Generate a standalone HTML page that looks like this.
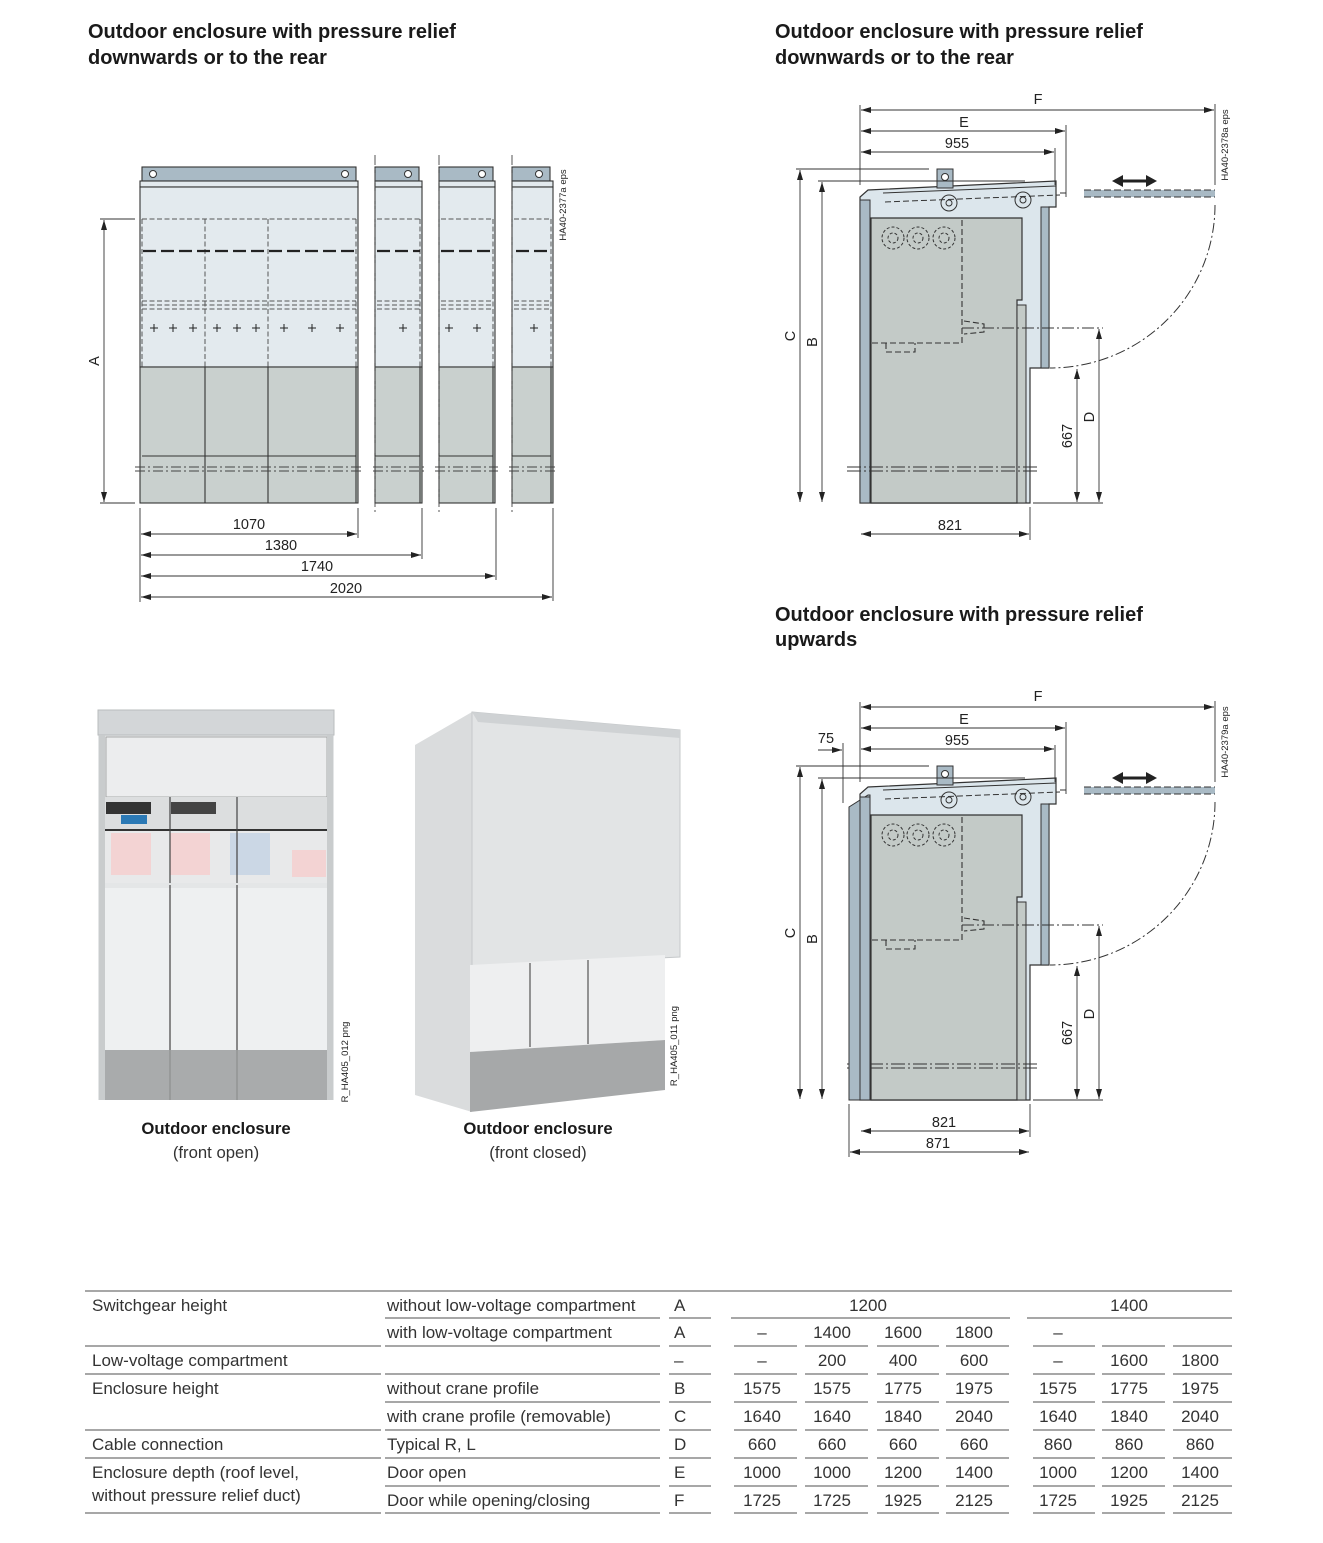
<!DOCTYPE html>
<html><head><meta charset="utf-8"><style>
html,body{margin:0;padding:0;background:#fff}
svg{display:block}
text{font-family:"Liberation Sans",sans-serif;fill:#222}
.t{font-size:20px;font-weight:bold;fill:#1a1a1a}
.d{font-size:14.5px}
.s{font-size:9.5px}
.tb{font-size:17px;fill:#333}
</style></head><body>
<svg width="1323" height="1543" viewBox="0 0 1323 1543" xmlns="http://www.w3.org/2000/svg">
<defs>
<marker id="ar" viewBox="0 0 10 6" refX="10" refY="3" markerWidth="10" markerHeight="6" markerUnits="userSpaceOnUse" orient="auto-start-reverse"><path d="M0,0L10,3L0,6z" fill="#222"/></marker>
<g id="side">
  <path d="M860,503 L860,197 L868,190 L1056,181 L1056,207 L1049,207 L1049,368 L1030,368 L1030,503 Z" fill="#dce6ec" stroke="#333" stroke-width="1.2"/>
  <rect x="860" y="200" width="10" height="303" fill="#a9bac5" stroke="#333" stroke-width="1"/>
  <path d="M871,503 L871,218 L1022,218 L1022,300 L1017,300 L1017,503 Z" fill="#c3cac7" stroke="#333" stroke-width="1.2"/>
  <rect x="1017" y="305" width="9" height="198" fill="#c3cac7" stroke="#333" stroke-width="1"/>
  <rect x="1041" y="207" width="8" height="161" fill="#a9bac5" stroke="#333" stroke-width="1"/>
  <path d="M883,193 L1056,186" stroke="#333" stroke-width="1" fill="none"/>
  <path d="M885,202 L1060,195" stroke="#333" stroke-width="1" stroke-dasharray="6,3" fill="none"/>
  <rect x="937" y="169" width="16" height="19" fill="#a9bac5" stroke="#333"/>
  <circle cx="945" cy="177" r="3.5" fill="#fff" stroke="#333"/>
  <circle cx="949" cy="203" r="8" fill="none" stroke="#333"/><circle cx="949" cy="203" r="3" fill="none" stroke="#333"/>
  <circle cx="1023" cy="200" r="8" fill="none" stroke="#333"/><circle cx="1023" cy="200" r="3" fill="none" stroke="#333"/>
  <g fill="none" stroke="#333" stroke-dasharray="3,2">
    <circle cx="893" cy="238" r="11"/><circle cx="893" cy="238" r="5"/>
    <circle cx="918" cy="238" r="11"/><circle cx="918" cy="238" r="5"/>
    <circle cx="944" cy="238" r="11"/><circle cx="944" cy="238" r="5"/>
  </g>
  <g fill="none" stroke="#333" stroke-width="1.1" stroke-dasharray="6,3">
    <path d="M962,220 L962,343 L871,343"/>
    <path d="M886,343 L886,352 L915,352 L915,343"/>
    <path d="M964,321 L984,324 L984,332 L964,334"/>
  </g>
  <path d="M962,328 L1103,328" stroke="#333" stroke-dasharray="12,3,2,3" fill="none"/>
  <path d="M847,467 L1040,467 M847,471 L1040,471" stroke="#333" stroke-width="0.9" stroke-dasharray="14,3,2,3" fill="none"/>
  <path d="M1084,190 L1215,190 L1215,197 L1084,197 Z" fill="#a9bac5"/>
  <path d="M1084,190 L1215,190 M1084,197 L1215,197" stroke="#333" stroke-dasharray="7,3"/>
  <path d="M1060,193 L1066,193" stroke="#333"/>
  <path d="M1215,205 A165,163 0 0 1 1050,368" fill="none" stroke="#333" stroke-dasharray="10,3,2,3"/>
  <path d="M1112,181 L1123,175 L1123,179.5 L1146,179.5 L1146,175 L1157,181 L1146,187 L1146,182.5 L1123,182.5 L1123,187 Z" fill="#222"/>
  <g stroke="#333" stroke-width="0.9" fill="none">
    <path d="M860,105 L860,185 M1066,125 L1066,197 M1055,148 L1055,185 M1215,104 L1215,185"/>
    <path d="M861,110 L1214,110" marker-start="url(#ar)" marker-end="url(#ar)"/>
    <path d="M861,131 L1065,131" marker-start="url(#ar)" marker-end="url(#ar)"/>
    <path d="M861,152 L1054,152" marker-start="url(#ar)" marker-end="url(#ar)"/>
    <path d="M796,169 L929,169 M818,181 L1025,181"/>
    <path d="M800,170 L800,502" marker-start="url(#ar)" marker-end="url(#ar)"/>
    <path d="M822,182 L822,502" marker-start="url(#ar)" marker-end="url(#ar)"/>
    <path d="M1033,503 L1103,503"/>
    <path d="M1077,369 L1077,502" marker-start="url(#ar)" marker-end="url(#ar)"/>
    <path d="M1099,329 L1099,502" marker-start="url(#ar)" marker-end="url(#ar)"/>
    <path d="M1030,507 L1030,540"/>
    <path d="M861,534 L1029,534" marker-start="url(#ar)" marker-end="url(#ar)"/>
  </g>
</g>
</defs>

<text class="t" x="88" y="38">Outdoor enclosure with pressure relief</text>
<text class="t" x="88" y="64">downwards or to the rear</text>
<text class="t" x="775" y="38">Outdoor enclosure with pressure relief</text>
<text class="t" x="775" y="64">downwards or to the rear</text>
<text class="t" x="775" y="621">Outdoor enclosure with pressure relief</text>
<text class="t" x="775" y="646">upwards</text>

<!-- FRONT VIEW -->
<g stroke="#333" stroke-width="1.1">
  <rect x="142" y="167" width="214" height="14" fill="#a9bac5"/>
  <rect x="140" y="181" width="218" height="6" fill="#e3eaee"/>
  <rect x="140" y="187" width="218" height="180" fill="#e3eaee"/>
  <rect x="140" y="367" width="218" height="136" fill="#c9d0ce"/>
  <rect x="375" y="167" width="44" height="14" fill="#a9bac5"/>
  <rect x="375" y="181" width="47" height="6" fill="#e3eaee"/>
  <rect x="375" y="187" width="47" height="180" fill="#e3eaee"/>
  <rect x="375" y="367" width="47" height="136" fill="#c9d0ce"/>
  <rect x="439" y="167" width="54" height="14" fill="#a9bac5"/>
  <rect x="439" y="181" width="56" height="6" fill="#e3eaee"/>
  <rect x="439" y="187" width="56" height="180" fill="#e3eaee"/>
  <rect x="439" y="367" width="56" height="136" fill="#c9d0ce"/>
  <rect x="512" y="167" width="38" height="14" fill="#a9bac5"/>
  <rect x="512" y="181" width="41" height="6" fill="#e3eaee"/>
  <rect x="512" y="187" width="41" height="180" fill="#e3eaee"/>
  <rect x="512" y="367" width="41" height="136" fill="#c9d0ce"/>
  <path d="M205,367 L205,503 M268,367 L268,503 M356,367 L356,503 M420,367 L420,503 M493,367 L493,503 M551,367 L551,503" fill="none"/>
  <path d="M142,456 L356,456 M375,456 L420,456 M439,456 L493,456 M512,456 L551,456" fill="none"/>
</g>
<g fill="#fff" stroke="#333">
  <circle cx="153" cy="174" r="3.5"/><circle cx="345" cy="174" r="3.5"/>
  <circle cx="408" cy="174" r="3.5"/><circle cx="482" cy="174" r="3.5"/><circle cx="539" cy="174" r="3.5"/>
</g>
<g fill="none" stroke="#555" stroke-width="1" stroke-dasharray="5,2.5">
  <path d="M142,219 L356,219 M142,219 L142,367 M205,219 L205,367 M268,219 L268,367 M356,219 L356,367"/>
  <path d="M142,301 L356,301 M142,305 L356,305 M142,309 L356,309"/>
  <path d="M377,219 L420,219 M420,219 L420,367 M377,301 L420,301 M377,305 L420,305 M377,309 L420,309"/>
  <path d="M441,219 L493,219 M493,219 L493,367 M441,301 L493,301 M441,305 L493,305 M441,309 L493,309"/>
  <path d="M514,219 L551,219 M551,219 L551,367 M514,301 L551,301 M514,305 L551,305 M514,309 L551,309"/>
</g>
<g stroke="#222" stroke-width="2.2" stroke-dasharray="13,5">
  <path d="M143,251 L356,251 M377,251 L420,251 M441,251 L493,251 M516,251 L551,251"/>
</g>
<g stroke="#444" stroke-width="0.9" stroke-dasharray="10,3,2,3" fill="none">
  <path d="M375,155 L375,515 M439,155 L439,515 M512,155 L512,515"/>
  <path d="M135,467 L362,467 M135,471 L362,471 M373,467 L425,467 M373,471 L425,471 M435,467 L498,467 M435,471 L498,471 M509,467 L556,467 M509,471 L556,471"/>
</g>
<g stroke="#222" stroke-width="1">
  <path d="M150,328h8M154,324v8 M169,328h8M173,324v8 M189,328h8M193,324v8 M213,328h8M217,324v8 M233,328h8M237,324v8 M252,328h8M256,324v8 M280,328h8M284,324v8 M308,328h8M312,324v8 M336,328h8M340,324v8 M399,328h8M403,324v8 M445,328h8M449,324v8 M473,328h8M477,324v8 M530,328h8M534,324v8"/>
</g>
<g stroke="#333" stroke-width="0.9" fill="none">
  <path d="M100,219 L135,219 M100,503 L135,503"/>
  <path d="M104,220 L104,502" marker-start="url(#ar)" marker-end="url(#ar)"/>
  <path d="M140,508 L140,602 M358,508 L358,538 M422,508 L422,559 M496,508 L496,580 M553,508 L553,601"/>
  <path d="M141,534 L357,534" marker-start="url(#ar)" marker-end="url(#ar)"/>
  <path d="M141,555 L421,555" marker-start="url(#ar)" marker-end="url(#ar)"/>
  <path d="M141,576 L495,576" marker-start="url(#ar)" marker-end="url(#ar)"/>
  <path d="M141,597 L552,597" marker-start="url(#ar)" marker-end="url(#ar)"/>
</g>
<text class="d" x="249" y="529" text-anchor="middle">1070</text>
<text class="d" x="281" y="550" text-anchor="middle">1380</text>
<text class="d" x="317" y="571" text-anchor="middle">1740</text>
<text class="d" x="346" y="593" text-anchor="middle">2020</text>
<text class="d" transform="translate(99,361) rotate(-90)" text-anchor="middle">A</text>
<text class="s" transform="translate(566,205) rotate(-90)" text-anchor="middle">HA40-2377a eps</text>

<!-- SIDE VIEWS -->
<use href="#side"/>
<text class="d" x="1038" y="104" text-anchor="middle">F</text>
<text class="d" x="964" y="127" text-anchor="middle">E</text>
<text class="d" x="957" y="148" text-anchor="middle">955</text>
<text class="d" x="950" y="530" text-anchor="middle">821</text>
<text class="d" transform="translate(795,336) rotate(-90)" text-anchor="middle">C</text>
<text class="d" transform="translate(817,342) rotate(-90)" text-anchor="middle">B</text>
<text class="d" transform="translate(1094,417) rotate(-90)" text-anchor="middle">D</text>
<text class="d" transform="translate(1072,436) rotate(-90)" text-anchor="middle">667</text>
<text class="s" transform="translate(1228,145) rotate(-90)" text-anchor="middle">HA40-2378a eps</text>

<g transform="translate(0,597)"><use href="#side"/></g>
<path d="M849,1100 L849,807 L868,795 L870,795 L870,1100 Z" fill="#a9bac5" stroke="#333" stroke-width="1"/>
<rect x="860" y="797" width="10" height="303" fill="#a9bac5" stroke="#333" stroke-width="1"/>
<g stroke="#333" stroke-width="0.9" fill="none">
  <path d="M843,743 L843,803 M849,1104 L849,1157"/>
  <path d="M818,750 L842,750" marker-end="url(#ar)"/>
  <path d="M850,1152 L1029,1152" marker-start="url(#ar)" marker-end="url(#ar)"/>
</g>
<text class="d" x="826" y="743" text-anchor="middle">75</text>
<text class="d" x="1038" y="701" text-anchor="middle">F</text>
<text class="d" x="964" y="724" text-anchor="middle">E</text>
<text class="d" x="957" y="745" text-anchor="middle">955</text>
<text class="d" x="944" y="1127" text-anchor="middle">821</text>
<text class="d" x="938" y="1148" text-anchor="middle">871</text>
<text class="d" transform="translate(795,933) rotate(-90)" text-anchor="middle">C</text>
<text class="d" transform="translate(817,939) rotate(-90)" text-anchor="middle">B</text>
<text class="d" transform="translate(1094,1014) rotate(-90)" text-anchor="middle">D</text>
<text class="d" transform="translate(1072,1033) rotate(-90)" text-anchor="middle">667</text>
<text class="s" transform="translate(1228,742) rotate(-90)" text-anchor="middle">HA40-2379a eps</text>

<!-- PHOTO LEFT -->
<rect x="98" y="710" width="236" height="390" fill="#e4e6e7"/>
<rect x="98" y="710" width="236" height="25" fill="#d3d6d8" stroke="#b9bcbe"/>
<rect x="106" y="737" width="221" height="60" fill="#ecedee" stroke="#999" stroke-width="0.8"/>
<rect x="104" y="797" width="224" height="32" fill="#dcdedf"/>
<rect x="104" y="829" width="224" height="2" fill="#333"/>
<rect x="104" y="831" width="224" height="52" fill="#e8e9ea"/>
<rect x="111" y="833" width="40" height="42" fill="#f3d3d3"/>
<rect x="170" y="833" width="40" height="42" fill="#f3d3d3"/>
<rect x="230" y="833" width="40" height="42" fill="#cbd7e5"/>
<rect x="292" y="850" width="34" height="27" fill="#f3d3d3"/>
<rect x="106" y="802" width="45" height="12" fill="#333"/><rect x="171" y="802" width="45" height="12" fill="#444"/>
<rect x="121" y="815" width="26" height="9" fill="#2b79b5"/>
<rect x="104" y="888" width="224" height="162" fill="#eef0f1"/>
<path d="M170,885 L170,1050 M237,885 L237,1050 M170,797 L170,883 M237,797 L237,883" stroke="#444" stroke-width="1.2"/>
<rect x="100" y="1050" width="232" height="50" fill="#a9abac"/>
<path d="M170,1050 L170,1100 M237,1050 L237,1100" stroke="#888"/>
<rect x="99" y="735" width="6" height="365" fill="#c9cccd"/><rect x="327" y="735" width="6" height="365" fill="#c9cccd"/>
<text class="s" transform="translate(348,1062) rotate(-90)" text-anchor="middle">R_HA405_012 png</text>

<!-- PHOTO RIGHT -->
<polygon points="415,745 472,712 472,1112 415,1095" fill="#dadcdd"/>
<polygon points="472,712 680,730 680,957 472,967" fill="#e2e4e5" stroke="#c5c8ca"/>
<polygon points="472,712 680,730 680,738 478,722" fill="#cfd2d4"/>
<polygon points="470,965 665,955 665,1040 470,1052" fill="#eeeff0"/>
<path d="M530,963 L530,1047 M588,960 L588,1044" stroke="#555" stroke-width="1.2"/>
<polygon points="470,1052 665,1040 665,1090 470,1112" fill="#a6a8a9"/>
<text class="s" transform="translate(677,1046) rotate(-90)" text-anchor="middle">R_HA405_011 png</text>

<text x="216" y="1134" text-anchor="middle" style="font-size:16.7px;font-weight:bold;fill:#1a1a1a">Outdoor enclosure</text>
<text x="216" y="1158" text-anchor="middle" style="font-size:16.7px;fill:#333">(front open)</text>
<text x="538" y="1134" text-anchor="middle" style="font-size:16.7px;font-weight:bold;fill:#1a1a1a">Outdoor enclosure</text>
<text x="538" y="1158" text-anchor="middle" style="font-size:16.7px;fill:#333">(front closed)</text>

<!-- TABLE -->
<g stroke="#8a8a8a" stroke-width="1.5">
  <path d="M85,1291 L1232,1291"/>
  <path d="M385,1318 L660,1318 M669,1318 L711,1318 M731,1318 L1010,1318 M1027,1318 L1232,1318"/>
  <path d="M385,1402 L660,1402 M385,1486 L660,1486"/>
  <path d="M85,1346 L381,1346 M85,1374 L381,1374 M85,1430 L381,1430 M85,1458 L381,1458 M85,1513 L381,1513"/>
  <path d="M385,1346 L660,1346 M385,1374 L660,1374 M385,1430 L660,1430 M385,1458 L660,1458 M385,1513 L660,1513"/>
</g>
<g stroke="#8a8a8a" stroke-width="1.5">
  <path d="M669,1346h42M734,1346h63M805,1346h63M877,1346h62M946,1346h63M1033,1346h62M1102,1346h63M1173,1346h59"/>
  <path d="M669,1374h42M734,1374h63M805,1374h63M877,1374h62M946,1374h63M1033,1374h62M1102,1374h63M1173,1374h59"/>
  <path d="M669,1402h42M734,1402h63M805,1402h63M877,1402h62M946,1402h63M1033,1402h62M1102,1402h63M1173,1402h59"/>
  <path d="M669,1430h42M734,1430h63M805,1430h63M877,1430h62M946,1430h63M1033,1430h62M1102,1430h63M1173,1430h59"/>
  <path d="M669,1458h42M734,1458h63M805,1458h63M877,1458h62M946,1458h63M1033,1458h62M1102,1458h63M1173,1458h59"/>
  <path d="M669,1486h42M734,1486h63M805,1486h63M877,1486h62M946,1486h63M1033,1486h62M1102,1486h63M1173,1486h59"/>
  <path d="M669,1513h42M734,1513h63M805,1513h63M877,1513h62M946,1513h63M1033,1513h62M1102,1513h63M1173,1513h59"/>
</g>
<g>
<text class="tb" x="92" y="1311">Switchgear height</text>
<text class="tb" x="387" y="1311">without low-voltage compartment</text>
<text class="tb" x="674" y="1311">A</text>
<text class="tb" x="868" y="1311" text-anchor="middle">1200</text>
<text class="tb" x="1129" y="1311" text-anchor="middle">1400</text>
<text class="tb" x="387" y="1338">with low-voltage compartment</text>
<text class="tb" x="674" y="1338">A</text>
<text class="tb" x="762" y="1338" text-anchor="middle">–</text><text class="tb" x="832" y="1338" text-anchor="middle">1400</text><text class="tb" x="903" y="1338" text-anchor="middle">1600</text><text class="tb" x="974" y="1338" text-anchor="middle">1800</text><text class="tb" x="1058" y="1338" text-anchor="middle">–</text>
<text class="tb" x="92" y="1366">Low-voltage compartment</text>
<text class="tb" x="674" y="1366">–</text>
<text class="tb" x="762" y="1366" text-anchor="middle">–</text><text class="tb" x="832" y="1366" text-anchor="middle">200</text><text class="tb" x="903" y="1366" text-anchor="middle">400</text><text class="tb" x="974" y="1366" text-anchor="middle">600</text><text class="tb" x="1058" y="1366" text-anchor="middle">–</text><text class="tb" x="1129" y="1366" text-anchor="middle">1600</text><text class="tb" x="1200" y="1366" text-anchor="middle">1800</text>
<text class="tb" x="92" y="1394">Enclosure height</text>
<text class="tb" x="387" y="1394">without crane profile</text>
<text class="tb" x="674" y="1394">B</text>
<text class="tb" x="762" y="1394" text-anchor="middle">1575</text><text class="tb" x="832" y="1394" text-anchor="middle">1575</text><text class="tb" x="903" y="1394" text-anchor="middle">1775</text><text class="tb" x="974" y="1394" text-anchor="middle">1975</text><text class="tb" x="1058" y="1394" text-anchor="middle">1575</text><text class="tb" x="1129" y="1394" text-anchor="middle">1775</text><text class="tb" x="1200" y="1394" text-anchor="middle">1975</text>
<text class="tb" x="387" y="1422">with crane profile (removable)</text>
<text class="tb" x="674" y="1422">C</text>
<text class="tb" x="762" y="1422" text-anchor="middle">1640</text><text class="tb" x="832" y="1422" text-anchor="middle">1640</text><text class="tb" x="903" y="1422" text-anchor="middle">1840</text><text class="tb" x="974" y="1422" text-anchor="middle">2040</text><text class="tb" x="1058" y="1422" text-anchor="middle">1640</text><text class="tb" x="1129" y="1422" text-anchor="middle">1840</text><text class="tb" x="1200" y="1422" text-anchor="middle">2040</text>
<text class="tb" x="92" y="1450">Cable connection</text>
<text class="tb" x="387" y="1450">Typical R, L</text>
<text class="tb" x="674" y="1450">D</text>
<text class="tb" x="762" y="1450" text-anchor="middle">660</text><text class="tb" x="832" y="1450" text-anchor="middle">660</text><text class="tb" x="903" y="1450" text-anchor="middle">660</text><text class="tb" x="974" y="1450" text-anchor="middle">660</text><text class="tb" x="1058" y="1450" text-anchor="middle">860</text><text class="tb" x="1129" y="1450" text-anchor="middle">860</text><text class="tb" x="1200" y="1450" text-anchor="middle">860</text>
<text class="tb" x="92" y="1478">Enclosure depth (roof level,</text>
<text class="tb" x="92" y="1501">without pressure relief duct)</text>
<text class="tb" x="387" y="1478">Door open</text>
<text class="tb" x="674" y="1478">E</text>
<text class="tb" x="762" y="1478" text-anchor="middle">1000</text><text class="tb" x="832" y="1478" text-anchor="middle">1000</text><text class="tb" x="903" y="1478" text-anchor="middle">1200</text><text class="tb" x="974" y="1478" text-anchor="middle">1400</text><text class="tb" x="1058" y="1478" text-anchor="middle">1000</text><text class="tb" x="1129" y="1478" text-anchor="middle">1200</text><text class="tb" x="1200" y="1478" text-anchor="middle">1400</text>
<text class="tb" x="387" y="1506">Door while opening/closing</text>
<text class="tb" x="674" y="1506">F</text>
<text class="tb" x="762" y="1506" text-anchor="middle">1725</text><text class="tb" x="832" y="1506" text-anchor="middle">1725</text><text class="tb" x="903" y="1506" text-anchor="middle">1925</text><text class="tb" x="974" y="1506" text-anchor="middle">2125</text><text class="tb" x="1058" y="1506" text-anchor="middle">1725</text><text class="tb" x="1129" y="1506" text-anchor="middle">1925</text><text class="tb" x="1200" y="1506" text-anchor="middle">2125</text>
</g>
</svg>
</body></html>
